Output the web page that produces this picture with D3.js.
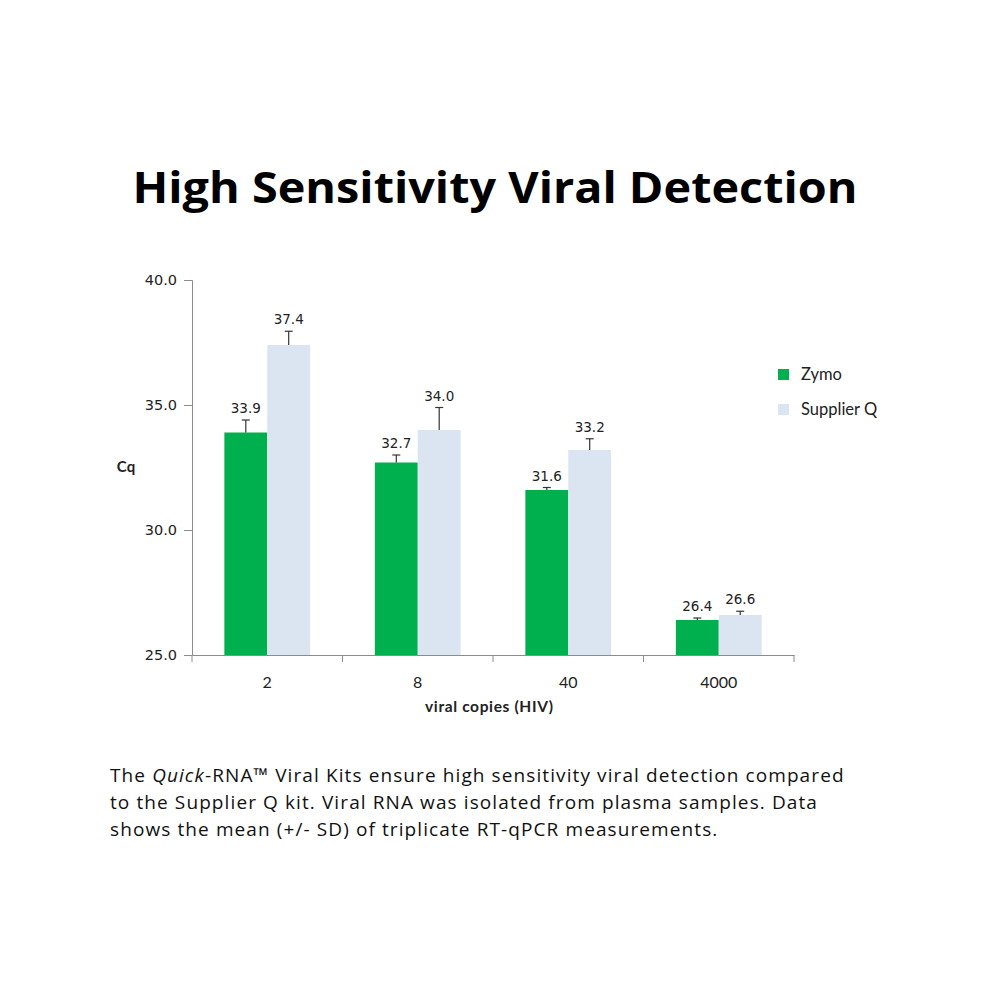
<!DOCTYPE html>
<html>
<head>
<meta charset="utf-8">
<script src="https://cdn.jsdelivr.net/npm/d3@7"></script>
<style>
  body { margin: 0; background: #fff; }
</style>
</head>
<body>
<div class="canva"></div>
<script>
const categories = ["2", "8", "40", "4000"];
const seriesNames = ["Zymo", "Supplier Q"];
const zymo = [33.9, 32.7, 31.6, 26.4];
const supplier = [37.4, 34.0, 33.2, 26.6];
const zymoSD = [0.5, 0.3, 0.1, 0.08];
const supplierSD = [0.55, 0.9, 0.45, 0.15];
const yTicks = [25, 30, 35, 40];

const colors = {"Zymo": "#00b04f", "Supplier Q": "#dbe5f1"};

const width = 1000, height = 1000;
const svg = d3.select(".canva").append("svg")
    .attr("width", width)
    .attr("height", height);

// title
svg.append("text")
    .attr("x", 495).attr("y", 203)
    .attr("text-anchor", "middle")
    .attr("font-family", "Open Sans, sans-serif")
    .attr("font-weight", "bold")
    .attr("font-size", 43)
    .attr("textLength", 725)
    .attr("lengthAdjust", "spacingAndGlyphs")
    .text("High Sensitivity Viral Detection");

const plot = {left: 192, right: 794, top: 280, bottom: 655};

const x = d3.scaleBand()
    .domain(categories)
    .range([plot.left, plot.right])
    .padding(0);

const y = d3.scaleLinear()
    .domain([25, 40])
    .range([plot.bottom, plot.top]);

const barW = x.bandwidth() * 0.285;

const rows = categories.map((c, i) => ([
    {cat: c, name: "Zymo", value: zymo[i], sd: zymoSD[i], k: 0},
    {cat: c, name: "Supplier Q", value: supplier[i], sd: supplierSD[i], k: 1}
])).flat();

const axisColor = "#8c8c8c";

// y axis
const yAxis = svg.append("g")
    .attr("transform", `translate(${plot.left},0)`)
    .call(d3.axisLeft(y).tickValues(yTicks).tickSize(8).tickFormat(d3.format(".1f")));
yAxis.select(".domain").attr("stroke", axisColor);
yAxis.selectAll(".tick line").attr("stroke", axisColor);
yAxis.selectAll(".tick text")
    .attr("x", -15)
    .attr("fill", "#222")
    .attr("font-family", "DejaVu Sans, sans-serif")
    .attr("font-size", 14.5);

// bars
svg.selectAll("rect.bar")
    .data(rows)
    .enter()
    .append("rect")
    .attr("class", "bar")
    .attr("x", d => x(d.cat) + x.bandwidth() / 2 - barW + d.k * barW)
    .attr("y", d => y(d.value))
    .attr("width", barW)
    .attr("height", d => y(25) - y(d.value))
    .attr("fill", d => colors[d.name]);

// error bars (upper only)
const err = svg.selectAll("g.err")
    .data(rows)
    .enter()
    .append("g")
    .attr("class", "err")
    .attr("stroke", "#333")
    .attr("stroke-width", 1.2);
const cx = d => x(d.cat) + x.bandwidth() / 2 - barW / 2 + d.k * barW;
err.append("line")
    .attr("x1", cx).attr("x2", cx)
    .attr("y1", d => y(d.value))
    .attr("y2", d => y(d.value + d.sd));
err.append("line")
    .attr("x1", d => cx(d) - 4).attr("x2", d => cx(d) + 4)
    .attr("y1", d => y(d.value + d.sd))
    .attr("y2", d => y(d.value + d.sd));

// value labels
svg.selectAll("text.val")
    .data(rows)
    .enter()
    .append("text")
    .attr("class", "val")
    .attr("x", cx)
    .attr("y", d => y(d.value + d.sd) - 7)
    .attr("text-anchor", "middle")
    .attr("font-family", "DejaVu Sans, sans-serif")
    .attr("font-size", 13.5)
    .attr("fill", "#222")
    .text(d => d.value.toFixed(1));

// x axis
const xAxis = svg.append("g")
    .attr("transform", `translate(0,${plot.bottom})`)
    .call(d3.axisBottom(x).tickSize(0).tickPadding(22));
xAxis.select(".domain").attr("stroke", axisColor);
xAxis.selectAll(".tick text")
    .attr("fill", "#222")
    .attr("font-family", "Lato, sans-serif")
    .attr("font-size", 16);
// boundary ticks
svg.append("g").selectAll("line")
    .data(categories.concat(["end"]))
    .enter()
    .append("line")
    .attr("x1", (d, i) => i < categories.length ? x(d) : plot.right)
    .attr("x2", (d, i) => i < categories.length ? x(d) : plot.right)
    .attr("y1", plot.bottom)
    .attr("y2", plot.bottom + 7)
    .attr("stroke", axisColor);

// axis titles
svg.append("text")
    .attr("x", 489).attr("y", 712)
    .attr("text-anchor", "middle")
    .attr("font-family", "Lato, sans-serif")
    .attr("font-weight", "bold")
    .attr("font-size", 15.5)
    .attr("textLength", 128)
    .attr("fill", "#222")
    .text("viral copies (HIV)");

svg.append("text")
    .attr("x", 126).attr("y", 472)
    .attr("text-anchor", "middle")
    .attr("font-family", "Lato, sans-serif")
    .attr("font-weight", "bold")
    .attr("font-size", 15)
    .attr("fill", "#222")
    .text("Cq");

// legend
const legend = svg.append("g").selectAll("g")
    .data(seriesNames)
    .enter()
    .append("g")
    .attr("transform", (d, i) => `translate(778,${369 + i * 35})`);
legend.append("rect")
    .attr("width", 11).attr("height", 11)
    .attr("fill", d => colors[d]);
legend.append("text")
    .attr("x", 23).attr("y", 11)
    .attr("font-family", "Lato, sans-serif")
    .attr("font-size", 16.5)
    .attr("fill", "#222")
    .text(d => d);

// caption
const caption = svg.append("text")
    .attr("font-family", "Open Sans, sans-serif")
    .attr("font-size", 19)
    .attr("letter-spacing", 1.1)
    .attr("fill", "#111");
const l1 = caption.append("tspan").attr("x", 110).attr("y", 782);
l1.append("tspan").text("The ");
l1.append("tspan").attr("font-style", "italic").text("Quick");
l1.append("tspan").text("-RNA\u2122 Viral Kits ensure high sensitivity viral detection compared");
caption.append("tspan").attr("x", 110).attr("y", 809)
    .text("to the Supplier Q kit. Viral RNA was isolated from plasma samples. Data");
caption.append("tspan").attr("x", 110).attr("y", 836)
    .text("shows the mean (+/- SD) of triplicate RT-qPCR measurements.");
</script>
</body>
</html>
